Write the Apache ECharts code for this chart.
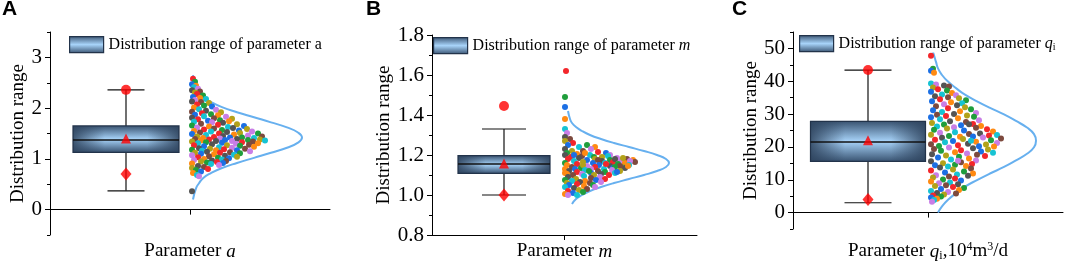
<!DOCTYPE html>
<html>
<head>
<meta charset="utf-8">
<script src="https://cdn.jsdelivr.net/npm/echarts@6/dist/echarts.min.js"></script>
<style>
  html, body { margin: 0; padding: 0; background: #fff; }
  #chart { width: 1065px; height: 261px; }
</style>
</head>
<body>
<div id="chart"></div>
<script>
// box statistics: [min whisker, Q1, median, Q3, max whisker]
const boxA = [0.37, 1.13, 1.37, 1.65, 2.36];
const boxB = [1.0, 1.108, 1.155, 1.197, 1.33];
const boxC = [3.0, 15.6, 21.5, 27.8, 43.4];

// red markers: [circle, triangle (mean), diamond]
const markA = [2.36, 1.40, 0.70];
const markB = [1.445, 1.158, 1.0];
const markC = [43.4, 22.0, 4.0];

// y tick labels
const yTicksA = [0, 1, 2, 3];
const yTicksC = [0, 10, 20, 30, 40, 50];

// distribution points: [value, jitter]
const ptsA = [
  [2.58,1],[2.52,3],[2.47,0],[2.44,4],
  [2.41,2],[2.38,6],[2.35,0],[2.33,8],[2.31,3],
  [2.28,5],[2.25,11],[2.22,1],[2.2,8],[2.18,14],[2.16,3],
  [2.13,0],[2.12,9],[2.1,17],[2.07,5],[2.05,12],[2.03,20],[2.01,2],
  [1.98,7],[1.97,24],[1.95,14],[1.93,0],[1.92,29],[1.9,10],[1.88,19],[1.87,3],[1.86,26],
  [1.84,12],[1.83,34],[1.81,0],[1.8,22],[1.79,40],[1.78,6],[1.76,28],[1.75,16],[1.74,37],[1.73,2],[1.72,20],[1.71,31],
  [1.69,9],[1.68,45],[1.67,26],[1.66,0],[1.65,52],[1.64,17],[1.63,36],[1.62,5],[1.61,41],[1.6,22],[1.59,55],[1.58,12],[1.57,30],[1.56,47],[1.55,2],
  [1.54,19],[1.54,60],[1.53,35],[1.52,8],[1.51,48],[1.5,27],[1.5,66],[1.49,0],[1.48,42],[1.47,14],[1.46,56],[1.45,31],[1.44,70],[1.44,5],[1.43,22],[1.42,50],[1.42,38],[1.41,11],[1.41,62],[1.4,28],
  [1.39,45],[1.39,3],[1.38,68],[1.38,17],[1.37,56],[1.37,33],[1.36,9],[1.36,73],[1.35,40],[1.35,24],[1.34,61],[1.34,0],[1.33,50],[1.33,14],[1.32,30],[1.31,66],[1.31,6],[1.3,44],
  [1.29,20],[1.28,57],[1.27,35],[1.27,2],[1.26,48],[1.25,12],[1.24,62],[1.23,27],[1.22,40],[1.21,7],[1.2,53],[1.2,18],[1.19,32],[1.18,0],[1.17,45],[1.17,24],[1.16,10],[1.15,58],
  [1.14,15],[1.13,38],[1.12,3],[1.12,28],[1.11,48],[1.1,9],[1.09,22],[1.08,42],[1.07,0],[1.06,33],[1.05,17],[1.04,45],[1.03,6],[1.02,26],[1.01,37],[1.0,12],
  [0.99,30],[0.98,2],[0.97,20],[0.96,34],[0.95,9],[0.94,25],[0.93,15],[0.92,31],[0.91,0],[0.9,19],[0.88,27],[0.86,6],
  [0.84,12],[0.82,0],[0.8,16],[0.78,4],[0.75,9],[0.72,1],
  [0.68,5],[0.66,7],[0.36,0]
];
const ptsB = [
  [1.62,1],[1.49,0],[1.44,0],[1.38,0],[1.33,0],[1.31,2],[1.29,0],[1.28,5],
  [1.27,0],[1.26,8],[1.25,22],[1.25,3],[1.24,30],[1.24,14],[1.23,26],[1.23,0],[1.22,18],[1.22,7],
  [1.215,33],[1.21,2],[1.21,41],[1.205,12],[1.2,25],[1.2,45],[1.2,0],[1.195,17],[1.19,37],[1.19,6],[1.19,29],[1.2,9],[1.21,20],[1.195,43],
  [1.185,52],[1.185,14],[1.18,62],[1.18,30],[1.18,3],[1.175,45],[1.175,22],[1.175,68],[1.17,9],[1.17,56],[1.17,37],[1.165,70],[1.165,18],[1.165,48],[1.16,0],[1.16,28],[1.16,60],[1.16,40],[1.17,65],[1.18,50],[1.175,33],[1.185,58],
  [1.155,12],[1.155,53],[1.15,34],[1.15,2],[1.15,64],[1.145,22],[1.145,45],[1.14,7],[1.14,58],[1.14,30],[1.135,16],[1.135,48],[1.13,0],[1.13,39],[1.13,26],[1.135,60],[1.145,55],[1.15,18],[1.155,41],[1.14,50],[1.13,10],[1.145,63],
  [1.125,20],[1.125,47],[1.12,4],[1.12,33],[1.12,55],[1.115,12],[1.115,40],[1.11,26],[1.11,0],[1.11,50],[1.105,17],[1.105,36],[1.1,8],[1.1,29],[1.1,44],[1.12,24],[1.115,52],[1.105,2],
  [1.095,19],[1.09,35],[1.09,3],[1.085,26],[1.08,11],[1.08,40],[1.075,0],[1.075,31],[1.07,20],[1.07,7],[1.065,36],[1.065,15],[1.06,25],[1.06,2],
  [1.055,12],[1.05,28],[1.05,4],[1.045,19],[1.04,0],[1.04,30],[1.035,9],[1.03,22],[1.025,14],[1.02,3],
  [1.015,18],[1.01,8],[1.005,0],[1.0,12],[1.0,3]
];
const ptsC = [
  [47.8,0],[43.8,2],[43.2,0],[42.6,3],
  [39.3,0],[39,5],[38.7,13],[38.4,18],[38.1,2],
  [37.6,7],[37.2,16],[36.8,0],[36.4,21],[36,11],[35.7,25],[35.4,4],[35.1,17],
  [34.8,28],[34.5,9],[34.2,35],[33.9,1],[33.6,20],[33.3,31],[33,13],[32.7,26],[32.4,5],[32.1,34],
  [31.8,17],[31.5,40],[31.2,2],[30.9,29],[30.6,11],[30.3,45],[30,23],[29.8,6],[29.6,36],[29.4,15],[29.2,43],[29,0],
  [28.7,27],[28.4,9],[28.1,48],[27.8,19],[27.6,35],[27.3,1],[27,42],[26.8,13],[26.6,30],[26.4,50],[26.2,6],[26,23],[26.9,38],
  [25.8,45],[25.6,16],[25.4,56],[25.2,3],[25,33],[24.7,62],[24.5,24],[24.3,9],[24.1,49],[23.9,38],[23.7,0],[23.5,58],[23.3,18],[23.2,42],[23.1,29],[23.6,66],
  [22.9,52],[22.8,11],[22.6,70],[22.4,32],[22.2,4],[22,60],[21.8,22],[21.6,45],[21.4,14],[21.2,66],[21,37],[20.8,0],[20.7,55],[20.5,27],[20.3,8],[20.2,48],[20.1,63],[21.9,40],
  [19.8,18],[19.6,42],[19.4,3],[19.2,57],[19,30],[18.8,10],[18.6,50],[18.4,24],[18.2,62],[18,36],[17.8,1],[17.6,46],[17.4,15],[17.2,54],[17,28],
  [16.8,7],[16.5,38],[16.2,20],[15.9,45],[15.6,0],[15.3,30],[15,12],[14.8,41],[14.6,24],[14.4,4],[14.2,35],[14,17],[15.8,27],
  [13.7,9],[13.4,40],[13.1,22],[12.8,0],[12.5,33],[12.2,14],[11.9,42],[11.6,26],[11.4,5],[11.2,37],[11,18],
  [10.7,2],[10.4,24],[10.1,12],[9.8,30],[9.5,0],[9.2,19],[8.9,8],[8.6,27],[8.3,15],[8.1,4],
  [7.8,22],[7.5,33],[7.2,10],[6.9,28],[6.6,0],[6.3,17],[6,6],[5.8,25],[5.5,13],[5.2,2],
  [4.9,10],[4.6,0],[4.2,6],[3.8,3],[3.3,1]
];

// normal curves: [value, width]
const curveA = [[0.2,0],[0.42,3],[0.52,6],[0.62,10],[0.72,18],[0.82,29],[0.92,44],[1.02,61],[1.12,78],[1.22,94],[1.32,105],[1.42,109],
  [1.52,105],[1.62,94],[1.72,78],[1.82,61],[1.92,44],[2.02,29],[2.12,18],[2.22,10],[2.32,6],[2.42,3],[2.65,0]];
const curveB = [[0.955,4],[0.98,8],[1.0,14],[1.02,22],[1.04,33],[1.06,46],[1.08,61],[1.1,76],[1.12,89],[1.14,98],[1.16,101],
  [1.18,98],[1.2,89],[1.22,76],[1.24,61],[1.26,46],[1.28,33],[1.3,22],[1.32,14],[1.34,8],[1.36,4],[1.38,2],[1.42,0]];
const curveC = [[0,6],[1.9,10],[3.9,16],[5.9,24],[7.9,33],[9.9,45],[11.9,58],[13.9,72],[15.9,84],[17.9,95],[19.9,102],[21.9,104],
  [23.9,102],[25.9,95],[27.9,84],[29.9,72],[31.9,58],[33.9,45],[35.9,33],[37.9,24],[39.9,16],[41.9,10],[43.9,6],[45.9,4],[47.9,2],[49,1]];

const dotColors = ['#f3262b', '#1f9e3c', '#1b6fe4', '#ff8a12', '#16c3d3', '#c97ee6', '#545454', '#7d4a3e', '#b3a21a'];
const serif = 'Liberation Serif';

const panels = [
  {
    letter: 'A', letterX: 2, box: boxA, mark: markA, pts: ptsA, curve: curveA,
    legendName: 'Distribution range of parameter a', legendLabel: 'Distribution range of parameter a',
    xName: 'Parameter {i|a}', xGap: 7, yGap: 21,
    grid: { left: 50, top: 32, width: 280, height: 203 },
    yMin: -0.5, yMax: 3.5, yTicks: yTicksA, yMinor: [-0.5, 0.5, 1.5, 2.5, 3.5],
    boxX: 76, boxHalf: 53, capHalf: 18.5, dotX: 142, curveX: 143,
    legendPos: { left: 69, top: 36 }
  },
  {
    letter: 'B', letterX: 366, box: boxB, mark: markB, pts: ptsB, curve: curveB,
    legendName: 'Distribution range of parameter m', legendLabel: 'Distribution range of parameter {i|m}',
    xName: 'Parameter {i|m}', xGap: 7, yGap: 36,
    grid: { left: 432, top: 35, width: 265, height: 200 },
    yMin: 0.8, yMax: 1.8, yInterval: 0.2,
    boxX: 72, boxHalf: 46, capHalf: 22, dotX: 133, curveX: 136,
    legendPos: { left: 433, top: 37 }
  },
  {
    letter: 'C', letterX: 732, box: boxC, mark: markC, pts: ptsC, curve: curveC,
    legendName: 'Distribution range of parameter qi', legendLabel: 'Distribution range of parameter {i|q}{sub|i}',
    xName: 'Parameter {i|q}{sub|i},10{sup|4}m{sup|3}/d', xGap: 12, yGap: 32,
    grid: { left: 793, top: 32, width: 270, height: 197 },
    yMin: -5, yMax: 55, yTicks: yTicksC, yMinor: [-5, 5, 15, 25, 35, 45, 55],
    boxX: 75, boxHalf: 57.5, capHalf: 23.5, dotX: 138, curveX: 139,
    legendPos: { left: 799, top: 35 }
  }
];

const richText = size => ({
  i: { fontFamily: serif, fontSize: size, fontStyle: 'italic', color: '#000' },
  sub: { fontFamily: serif, fontSize: Math.round(size * 0.65), color: '#000', padding: [8, 0, 0, 0] },
  sup: { fontFamily: serif, fontSize: Math.round(size * 0.65), color: '#000', padding: [0, 0, 9, 0] }
});

function boxFill() {
  return new echarts.graphic.LinearGradient(0, 0, 0, 1, [
    { offset: 0, color: '#3a5472' },
    { offset: 0.5, color: '#a8d4fa' },
    { offset: 1, color: '#3a5472' }
  ]);
}
function boxShade() {
  return new echarts.graphic.LinearGradient(0, 0, 1, 0, [
    { offset: 0, color: 'rgba(45,66,92,0.85)' },
    { offset: 0.3, color: 'rgba(45,66,92,0)' },
    { offset: 0.7, color: 'rgba(45,66,92,0)' },
    { offset: 1, color: 'rgba(45,66,92,0.85)' }
  ]);
}

function boxRender(p) {
  return function (params, api) {
    const x = api.coord([p.boxX, api.value(0)])[0];
    const y = i => api.coord([p.boxX, api.value(i)])[1];
    const yMin = y(0), yQ1 = y(1), yMed = y(2), yQ3 = y(3), yMax = y(4);
    const hw = api.size([p.boxHalf, 0])[0];
    const cw = api.size([p.capHalf, 0])[0];
    const line = (x1, y1, x2, y2, w) => ({
      type: 'line', shape: { x1, y1, x2, y2 }, style: { stroke: '#111', lineWidth: w || 1.2 }
    });
    const rect = { x: x - hw, y: yQ3, width: 2 * hw, height: yQ1 - yQ3 };
    return {
      type: 'group',
      children: [
        line(x, yMax, x, yQ3), line(x, yQ1, x, yMin),
        line(x - cw, yMax, x + cw, yMax), line(x - cw, yMin, x + cw, yMin),
        { type: 'rect', shape: rect, style: { fill: boxFill() } },
        { type: 'rect', shape: rect, style: { fill: boxShade() } },
        { type: 'rect', shape: rect, style: { fill: 'none', stroke: '#22334a', lineWidth: 1.2 } },
        line(x - hw, yMed, x + hw, yMed, 1.5)
      ]
    };
  };
}

const grids = [], xAxes = [], yAxes = [], series = [], legends = [], titles = [];

panels.forEach((p, k) => {
  grids.push(Object.assign({ outerBoundsMode: 'none', containLabel: false }, p.grid));
  titles.push({
    text: p.letter, left: p.letterX, top: -1, padding: 0,
    textStyle: { fontFamily: 'Liberation Sans', fontWeight: 'bold', fontSize: 21, color: '#000' }
  });

  xAxes.push({
    type: 'value', gridIndex: k, min: 0, max: p.grid.width,
    axisLine: { lineStyle: { color: '#000', width: 1 } },
    axisTick: { customValues: [p.grid.width / 2], length: 5, lineStyle: { color: '#000' } },
    axisLabel: { show: false },
    splitLine: { show: false },
    name: p.xName, nameLocation: 'middle', nameGap: p.xGap,
    nameTextStyle: { fontFamily: serif, fontSize: 19, color: '#000', rich: richText(19) }
  });

  const yMain = {
    type: 'value', gridIndex: k, min: p.yMin, max: p.yMax, position: 'left',
    axisLine: { show: true, lineStyle: { color: '#000', width: 1 } },
    axisTick: { length: 5, lineStyle: { color: '#000' } },
    axisLabel: { fontFamily: serif, fontSize: 21, color: '#000', margin: 8 },
    splitLine: { show: false },
    name: 'Distribution range', nameLocation: 'middle', nameRotate: 90, nameGap: p.yGap,
    nameTextStyle: { fontFamily: serif, fontSize: 19, color: '#000' }
  };
  if (p.yTicks) {
    yMain.axisTick.customValues = p.yTicks;
    yMain.axisLabel.customValues = p.yTicks;
    yAxes.push(yMain);
    yAxes.push({
      type: 'value', gridIndex: k, min: p.yMin, max: p.yMax, position: 'left',
      axisLine: { show: false },
      axisTick: { show: true, customValues: p.yMinor, length: 3, lineStyle: { color: '#000' } },
      axisLabel: { show: false },
      splitLine: { show: false }
    });
  } else {
    yMain.interval = p.yInterval;
    yMain.axisLabel.formatter = v => v.toFixed(1);
    yMain.minorTick = { show: true, splitNumber: 2, length: 3, lineStyle: { color: '#000' } };
    yAxes.push(yMain);
  }
  const yIndex = yAxes.length - (p.yTicks ? 2 : 1);

  series.push({
    name: p.legendName, type: 'custom', xAxisIndex: k, yAxisIndex: yIndex,
    renderItem: boxRender(p), data: [p.box], z: 2, silent: true
  });
  series.push({
    type: 'line', xAxisIndex: k, yAxisIndex: yIndex, smooth: true, showSymbol: false,
    lineStyle: { color: '#67b0ef', width: 2 },
    data: p.curve.map(c => [p.curveX + c[1], c[0]]), z: 3, silent: true
  });
  series.push({
    type: 'scatter', xAxisIndex: k, yAxisIndex: yIndex, symbolSize: 6,
    itemStyle: { color: params => dotColors[params.dataIndex % dotColors.length], opacity: 1 },
    data: p.pts.map(d => [p.dotX + d[1], d[0]]), z: 4, silent: true
  });
  series.push({
    type: 'scatter', xAxisIndex: k, yAxisIndex: yIndex,
    itemStyle: { color: '#ff0000' },
    data: [
      { value: [p.boxX, p.mark[0]], symbol: 'circle', symbolSize: 10 },
      { value: [p.boxX, p.mark[1]], symbol: 'triangle', symbolSize: [10, 10] },
      { value: [p.boxX, p.mark[2]], symbol: 'diamond', symbolSize: [11, 13] }
    ], z: 5, silent: true
  });

  legends.push({
    left: p.legendPos.left, top: p.legendPos.top, padding: 0,
    itemWidth: 34, itemHeight: 16, itemGap: 5,
    backgroundColor: k === 2 ? '#fff' : 'transparent',
    data: [{
      name: p.legendName, icon: 'rect',
      itemStyle: { color: boxFill(), borderColor: '#22334a', borderWidth: 1.2 }
    }],
    formatter: () => p.legendLabel,
    textStyle: { fontFamily: serif, fontSize: 16, color: '#000', rich: richText(16) },
    selectedMode: false
  });
});

const chart = echarts.init(document.getElementById('chart'), null, { renderer: 'canvas' });
chart.setOption({
  animation: false,
  backgroundColor: '#fff',
  title: titles,
  grid: grids,
  xAxis: xAxes,
  yAxis: yAxes,
  legend: legends,
  series: series
});
</script>
</body>
</html>
